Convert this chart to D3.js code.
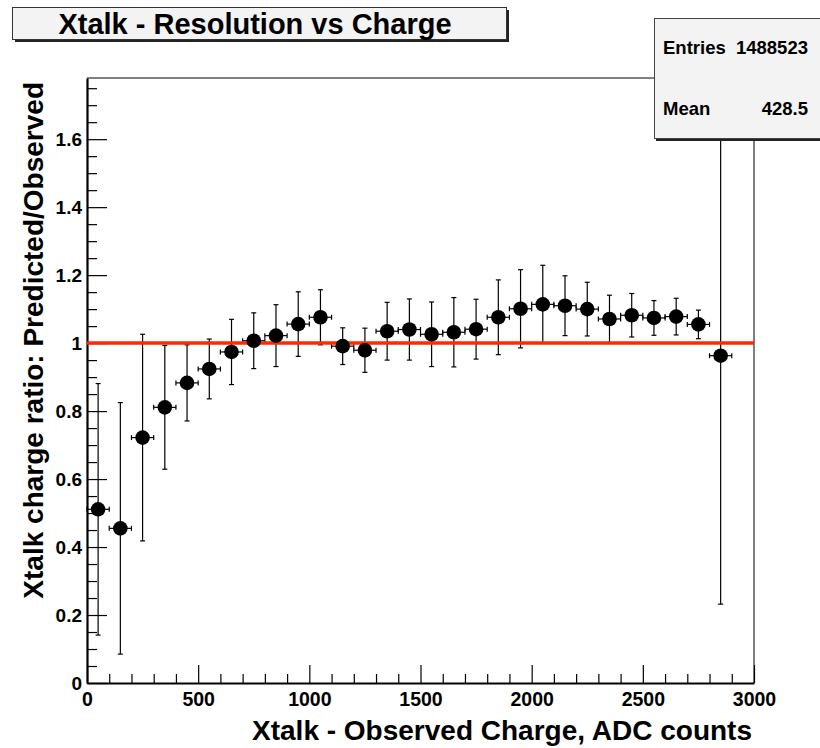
<!DOCTYPE html>
<html>
<head>
<meta charset="utf-8">
<script src="https://cdn.jsdelivr.net/npm/d3@7"></script>
<style>
  html, body { margin: 0; padding: 0; background: #ffffff; }
  svg { display: block; }
  text { font-family: "Liberation Sans", Arial, Helvetica, sans-serif; font-weight: bold; fill: #000; }
</style>
</head>
<body>
<svg id="chart" width="820" height="748"></svg>
<script>
// Crosstalk charge ratio per 100-ADC bin
const binCenters = [50, 150, 250, 350, 450, 550, 650, 750, 850, 950,
                    1050, 1150, 1250, 1350, 1450, 1550, 1650, 1750, 1850, 1950,
                    2050, 2150, 2250, 2350, 2450, 2550, 2650, 2750, 2850];
const binWidth = 100;
const ratio = [0.511, 0.455, 0.722, 0.811, 0.883, 0.924, 0.974, 1.007, 1.022, 1.056,
               1.076, 0.991, 0.979, 1.035, 1.040, 1.026, 1.032, 1.041, 1.076, 1.101,
               1.114, 1.110, 1.100, 1.071, 1.082, 1.074, 1.078, 1.055, 0.963];
const ratioErr = [0.370, 0.370, 0.304, 0.182, 0.112, 0.088, 0.096, 0.082, 0.091, 0.095,
                  0.081, 0.054, 0.065, 0.085, 0.090, 0.095, 0.102, 0.088, 0.110, 0.115,
                  0.115, 0.088, 0.079, 0.070, 0.064, 0.051, 0.054, 0.042, 0.731];
const referenceLevel = 1;

const xTicks = [0, 500, 1000, 1500, 2000, 2500, 3000];
const yTicks = [0, 0.2, 0.4, 0.6, 0.8, 1, 1.2, 1.4, 1.6];
const xDomain = [0, 3000];
const yDomain = [0, 1.78];

const titleText = "Xtalk - Resolution vs Charge";
const xTitle = "Xtalk - Observed Charge, ADC counts";
const yTitle = "Xtalk charge ratio: Predicted/Observed";
const statsLabels = ["Entries", "Mean"];
const statsValues = ["1488523", "428.5"];

const svg = d3.select("#chart");
const frame = { left: 87, right: 754, top: 78, bottom: 683 };

const x = d3.scaleLinear().domain(xDomain).range([frame.left, frame.right]);
const y = d3.scaleLinear().domain(yDomain).range([frame.bottom, frame.top]);

// frame: top and right edges
svg.append("path")
  .attr("d", `M${frame.left},${frame.top}H${frame.right}V${frame.bottom}`)
  .attr("fill", "none").attr("stroke", "#555").attr("stroke-width", 1.5);

// minor ticks
const yMinor = d3.range(0, 1.7801, 0.05).filter(v => !yTicks.some(t => Math.abs(t - v) < 1e-6));
const xMinor = d3.range(0, 3000.1, 100).filter(v => v % 500 !== 0);

svg.append("g").attr("transform", `translate(${frame.left},0)`)
  .call(d3.axisLeft(y).tickValues(yMinor).tickSizeInner(-10).tickSizeOuter(0).tickFormat(""))
  .call(g => g.select(".domain").remove())
  .call(g => g.selectAll("line").attr("stroke", "#000").attr("stroke-width", 1.2));

svg.append("g").attr("transform", `translate(0,${frame.bottom})`)
  .call(d3.axisBottom(x).tickValues(xMinor).tickSizeInner(-9).tickSizeOuter(0).tickFormat(""))
  .call(g => g.select(".domain").remove())
  .call(g => g.selectAll("line").attr("stroke", "#000").attr("stroke-width", 1.2));

// major ticks + labels
const yAxis = svg.append("g").attr("transform", `translate(${frame.left},0)`)
  .call(d3.axisLeft(y).tickValues(yTicks).tickSizeInner(-20).tickSizeOuter(0).tickPadding(5)
        .tickFormat(d => String(+d.toFixed(1))));
yAxis.select(".domain").attr("stroke", "#000").attr("stroke-width", 2.2);
yAxis.selectAll("line").attr("stroke", "#000").attr("stroke-width", 1.2);
yAxis.selectAll("text").attr("font-size", 19).attr("font-family", null).attr("fill", "#000");

const xAxis = svg.append("g").attr("transform", `translate(0,${frame.bottom})`)
  .call(d3.axisBottom(x).tickValues(xTicks).tickSizeInner(-18).tickSizeOuter(0).tickPadding(9)
        .tickFormat(d3.format("d")));
xAxis.select(".domain").attr("stroke", "#000").attr("stroke-width", 2.2);
xAxis.selectAll("line").attr("stroke", "#000").attr("stroke-width", 1.2);
xAxis.selectAll("text").attr("font-size", 19.5).attr("font-family", null).attr("fill", "#000");

// data: error bars
const pts = binCenters.map((c, i) => ({ c, v: ratio[i], e: ratioErr[i] }));
const clipTop = frame.top;
const bars = svg.append("g").attr("stroke", "#000").attr("stroke-width", 1.2).attr("fill", "none");
pts.forEach(p => {
  const cx = x(p.c), cy = y(p.v);
  const yHi = Math.max(y(p.v + p.e), clipTop), yLo = y(p.v - p.e);
  bars.append("line").attr("x1", cx).attr("x2", cx).attr("y1", yHi).attr("y2", yLo);
  if (y(p.v + p.e) >= clipTop)
    bars.append("line").attr("x1", cx - 2.5).attr("x2", cx + 2.5).attr("y1", yHi).attr("y2", yHi);
  bars.append("line").attr("x1", cx - 2.5).attr("x2", cx + 2.5).attr("y1", yLo).attr("y2", yLo);
  const xl = x(p.c - binWidth / 2), xr = x(p.c + binWidth / 2);
  bars.append("line").attr("x1", xl).attr("x2", xr).attr("y1", cy).attr("y2", cy);
  bars.append("line").attr("x1", xl).attr("x2", xl).attr("y1", cy - 2.5).attr("y2", cy + 2.5);
  bars.append("line").attr("x1", xr).attr("x2", xr).attr("y1", cy - 2.5).attr("y2", cy + 2.5);
});

// reference line at ratio = 1
svg.append("line")
  .attr("x1", x(xDomain[0])).attr("x2", x(xDomain[1]))
  .attr("y1", y(referenceLevel)).attr("y2", y(referenceLevel))
  .attr("stroke", "#ff2a00").attr("stroke-width", 3.5);

// markers
svg.append("g").selectAll("circle").data(pts).join("circle")
  .attr("cx", d => x(d.c)).attr("cy", d => y(d.v)).attr("r", 7.3).attr("fill", "#000");

// title box
svg.append("rect").attr("x", 15).attr("y", 10).attr("width", 494).attr("height", 32).attr("fill", "#222");
svg.append("rect").attr("x", 12.5).attr("y", 7.5).attr("width", 494).attr("height", 32)
  .attr("fill", "#f3f3f3").attr("stroke", "#333").attr("stroke-width", 1);
svg.append("text").attr("x", 255).attr("y", 34).attr("text-anchor", "middle")
  .attr("font-size", 29).text(titleText);

// stats box
svg.append("rect").attr("x", 656).attr("y", 20).attr("width", 170).attr("height", 121).attr("fill", "#222");
svg.append("rect").attr("x", 654.5).attr("y", 18.5).attr("width", 170).attr("height", 120)
  .attr("fill", "#f3f3f3").attr("stroke", "#444").attr("stroke-width", 1);
const statY = [53.5, 115];
statsLabels.forEach((s, i) => {
  svg.append("text").attr("x", 663).attr("y", statY[i]).attr("font-size", 18.5).text(s);
  svg.append("text").attr("x", 808).attr("y", statY[i]).attr("text-anchor", "end").attr("font-size", 18.5).text(statsValues[i]);
});

// axis titles
svg.append("text").attr("x", 752).attr("y", 740).attr("text-anchor", "end")
  .attr("font-size", 28).text(xTitle);
svg.append("text").attr("transform", "translate(43,82) rotate(-90)").attr("text-anchor", "end")
  .attr("font-size", 28).text(yTitle);
</script>
</body>
</html>
